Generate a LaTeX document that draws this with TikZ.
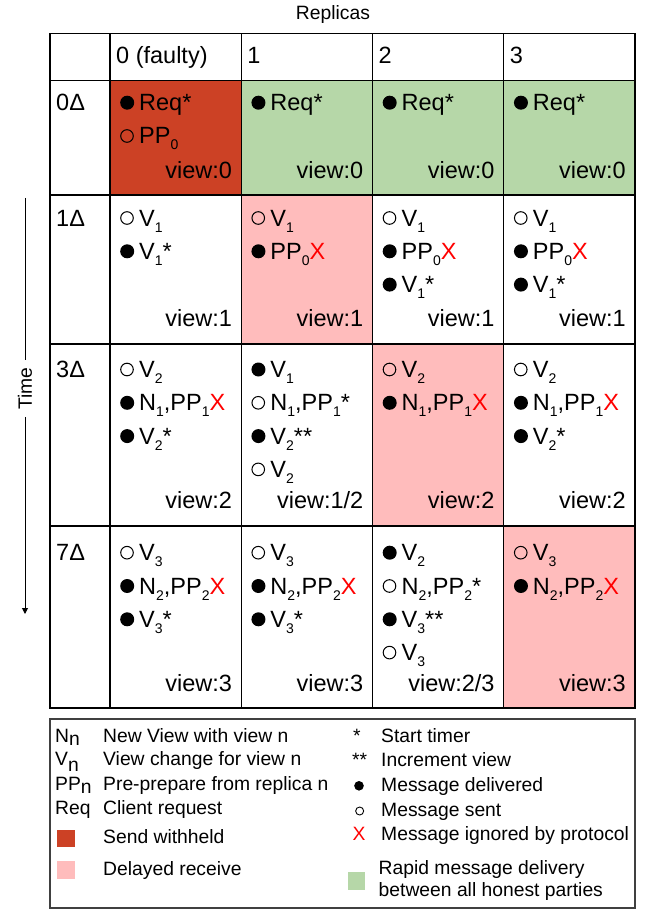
\documentclass[tikz,border=0pt]{standalone}
\usepackage{fontspec}
\setmainfont{Liberation Sans}
\usetikzlibrary{arrows.meta,calc,positioning}

\definecolor{withheld}{HTML}{CC4125}
\definecolor{delayed}{HTML}{FFBCBC}
\definecolor{rapid}{HTML}{B6D7A8}
\definecolor{ignoredred}{HTML}{FF0000}
\definecolor{keyline}{HTML}{404040}

\newcommand\msgsub[1]{\raisebox{-6pt}{\fontsize{14}{14}\selectfont #1}}
\newcommand\keysub[2]{\raisebox{-#1pt}{#2}}
\newcommand\delivered{\makebox[19pt][l]{\tikz[x=1pt,y=1pt,baseline=0pt]\fill (7,8) circle (7);}}
\newcommand\sentmsg{\makebox[19pt][l]{\tikz[x=1pt,y=1pt,baseline=0pt]\draw[line width=1pt] (7,8) circle (6.3);}}
\newcommand\keydot{\tikz[x=1pt,y=1pt,baseline=0pt]\fill (4.8,5.2) circle (4.8);}
\newcommand\keyring{\tikz[x=1pt,y=1pt,baseline=0pt]\draw[line width=0.9pt] (4.5,5) circle (4);}
\newcommand\ignored{\textcolor{ignoredred}{X}}

% one table cell: name, left x, first baseline, view baseline, view text, lines
\newcommand\cell[6]{%
  \foreach \t [count=\i] in {#6}
    \node[msgline] (#1l\i) at (#2+10, {#3+33.3*(\i-1)}) {\t};
  \node[viewlbl] (#1v) at (#2+122.25, #4) {#5};
}

\tikzset{
  msgline/.style={anchor=base west, inner sep=0pt, font=\fontsize{23.5}{28}\selectfont},
  viewlbl/.style={anchor=base east, inner sep=0pt, font=\fontsize{23.5}{28}\selectfont},
  hdr/.style={anchor=base west, inner sep=0pt, font=\fontsize{23.5}{28}\selectfont},
  key/.style={anchor=base west, inner sep=0pt, font=\fontsize{19.3}{22}\selectfont},
  grid/.style={line width=1.3pt, black},
}

\begin{document}
\begin{tikzpicture}[x=1pt, y=-1pt]
  \useasboundingbox (0,0) rectangle (646,909);

  % coloured cells
  \fill[withheld] (110,80.5) rectangle (241.25,195);
  \fill[rapid] (241.25,80.5) rectangle (635,195);
  \fill[delayed] (241.25,195) rectangle (372.5,344);
  \fill[delayed] (372.5,344) rectangle (503.75,526);
  \fill[delayed] (503.75,526) rectangle (635,708);

  % table lines
  \draw[grid] (50,33.5) rectangle (635,708);
  \foreach \y in {80.5,195,344,526}
    \draw[grid] (50,\y) -- (635,\y);
  \foreach \x in {110,241.25,372.5,503.75}
    \draw[grid] (\x,33.5) -- (\x,708);

  \node[key, anchor=base] (replicas) at (333,19.5) {Replicas};

  % header row and time steps
  \node[hdr] (h0) at (116,64) {0 (faulty)};
  \node[hdr] (h1) at (247.25,64) {1};
  \node[hdr] (h2) at (378.5,64) {2};
  \node[hdr] (h3) at (509.75,64) {3};

  \node[hdr] (d0) at (56,110.7) {0Δ};
  \node[hdr] (d1) at (56,226) {1Δ};
  \node[hdr] (d2) at (56,377.5) {3Δ};
  \node[hdr] (d3) at (56,560.7) {7Δ};

  % row 0
  \cell{a0}{110}{110.7}{178.3}{view:0}{{\delivered Req*},{\sentmsg PP\msgsub{0}}}
  \cell{a1}{241.25}{110.7}{178.3}{view:0}{{\delivered Req*}}
  \cell{a2}{372.5}{110.7}{178.3}{view:0}{{\delivered Req*}}
  \cell{a3}{503.75}{110.7}{178.3}{view:0}{{\delivered Req*}}

  % row 1
  \cell{b0}{110}{226}{326.7}{view:1}{{\sentmsg V\msgsub{1}},{\delivered V\msgsub{1}*}}
  \cell{b1}{241.25}{226}{326.7}{view:1}{{\sentmsg V\msgsub{1}},{\delivered PP\msgsub{0}\ignored}}
  \cell{b2}{372.5}{226}{326.7}{view:1}{{\sentmsg V\msgsub{1}},{\delivered PP\msgsub{0}\ignored},{\delivered V\msgsub{1}*}}
  \cell{b3}{503.75}{226}{326.7}{view:1}{{\sentmsg V\msgsub{1}},{\delivered PP\msgsub{0}\ignored},{\delivered V\msgsub{1}*}}

  % row 2
  \cell{c0}{110}{377.5}{508.3}{view:2}{{\sentmsg V\msgsub{2}},{\delivered N\msgsub{1},PP\msgsub{1}\ignored},{\delivered V\msgsub{2}*}}
  \cell{c1}{241.25}{377.5}{508.3}{view:1/2}{{\delivered V\msgsub{1}},{\sentmsg N\msgsub{1},PP\msgsub{1}*},{\delivered V\msgsub{2}**},{\sentmsg V\msgsub{2}}}
  \cell{c2}{372.5}{377.5}{508.3}{view:2}{{\sentmsg V\msgsub{2}},{\delivered N\msgsub{1},PP\msgsub{1}\ignored}}
  \cell{c3}{503.75}{377.5}{508.3}{view:2}{{\sentmsg V\msgsub{2}},{\delivered N\msgsub{1},PP\msgsub{1}\ignored},{\delivered V\msgsub{2}*}}

  % row 3
  \cell{e0}{110}{560.7}{691.7}{view:3}{{\sentmsg V\msgsub{3}},{\delivered N\msgsub{2},PP\msgsub{2}\ignored},{\delivered V\msgsub{3}*}}
  \cell{e1}{241.25}{560.7}{691.7}{view:3}{{\sentmsg V\msgsub{3}},{\delivered N\msgsub{2},PP\msgsub{2}\ignored},{\delivered V\msgsub{3}*}}
  \cell{e2}{372.5}{560.7}{691.7}{view:2/3}{{\delivered V\msgsub{2}},{\sentmsg N\msgsub{2},PP\msgsub{2}*},{\delivered V\msgsub{3}**},{\sentmsg V\msgsub{3}}}
  \cell{e3}{503.75}{560.7}{691.7}{view:3}{{\sentmsg V\msgsub{3}},{\delivered N\msgsub{2},PP\msgsub{2}\ignored}}

  % time axis
  \coordinate (ttop) at (25,198);
  \coordinate (tbot) at (25,614);
  \node[key, anchor=center, rotate=90, inner xsep=7pt] (time) at (25,388.5) {Time};
  \draw[line width=1pt] (ttop) -- (time.east);
  \draw[line width=1pt, -{Triangle[width=6pt,length=6pt]}] (time.west) -- (tbot);

  % legend
  \draw[keyline, line width=1.5pt] (50,719) rectangle (635,908);

  \node[key] (kn) at (55,742.7) {N\keysub{3}{n}};
  \node[key] (kv) at (55,765) {V\keysub{6}{n}};
  \node[key] (kpp) at (55,790) {PP\keysub{3}{n}};
  \node[key] (kreq) at (55,814.3) {Req};
  \node[key] (knt) at (103,742.7) {New View with view n};
  \node[key] (kvt) at (103,765) {View change for view n};
  \node[key] (kppt) at (103,790) {Pre-prepare from replica n};
  \node[key] (kreqt) at (103,814.3) {Client request};
  \fill[withheld] (56.5,830) rectangle (75,847.3);
  \node[key] (kwh) at (103,843.3) {Send withheld};
  \fill[delayed] (56.5,861) rectangle (75,879);
  \node[key] (kdl) at (103,875) {Delayed receive};

  \node[key] (kst) at (353,742.7) {*};
  \node[key] (kinc) at (352,766.7) {**};
  \node[key] (kdel) at (354,791) {\keydot};
  \node[key] (ksent) at (355,816) {\keyring};
  \node[key] (kign) at (352.5,840) {\ignored};
  \node[key] (kstt) at (381,742.7) {Start timer};
  \node[key] (kinct) at (381,766.7) {Increment view};
  \node[key] (kdelt) at (381,791) {Message delivered};
  \node[key] (ksentt) at (381,816) {Message sent};
  \node[key] (kignt) at (381,840) {Message ignored by protocol};
  \fill[rapid] (347.7,872.3) rectangle (365.4,890);
  \node[key] (krap) at (378.5,874) {Rapid message delivery};
  \node[key] (krap2) at (378.5,896.7) {between all honest parties};
\end{tikzpicture}
\end{document}
